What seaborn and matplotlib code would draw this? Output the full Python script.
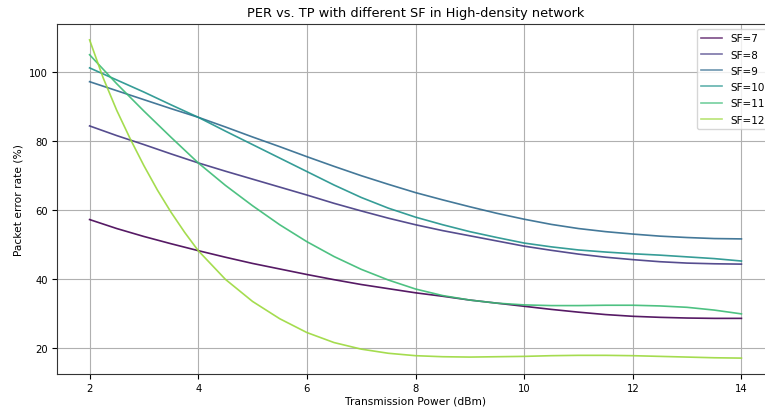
import numpy as np
import pandas as pd
import matplotlib
matplotlib.use("Agg")
import matplotlib.pyplot as plt
import seaborn as sns

# Transmission power sweep (dBm)
tp = [2.0, 2.5, 3.0, 3.5, 4.0, 4.5, 5.0, 5.5, 6.0, 6.5, 7.0, 7.5, 8.0,
      8.5, 9.0, 9.5, 10.0, 10.5, 11.0, 11.5, 12.0, 12.5, 13.0, 13.5, 14.0]
# SF=12 drops steeply at low power, so it is sampled more densely there
tp_sf12 = [2.0, 2.25, 2.5, 2.75, 3.0, 3.25, 3.5, 3.75, 4.0, 4.5, 5.0, 5.5, 6.0, 6.5, 7.0,
           7.5, 8.0, 8.5, 9.0, 9.5, 10.0, 10.5, 11.0, 11.5, 12.0, 12.5, 13.0, 13.5, 14.0]

# Packet error rate (%) per spreading factor
per_sf7 = [57.3, 54.7, 52.4, 50.3, 48.3, 46.4, 44.6, 43.0, 41.4, 39.9, 38.5, 37.3, 36.1,
           35.1, 34.0, 33.1, 32.2, 31.3, 30.5, 29.8, 29.3, 29.0, 28.8, 28.7, 28.7]
per_sf8 = [84.4, 81.6, 79.0, 76.3, 73.7, 71.3, 69.0, 66.7, 64.4, 62.0, 59.8, 57.7, 55.8,
           54.1, 52.6, 51.1, 49.6, 48.4, 47.3, 46.4, 45.7, 45.1, 44.7, 44.5, 44.4]
per_sf9 = [97.2, 94.6, 92.0, 89.4, 86.9, 84.1, 81.2, 78.4, 75.5, 72.7, 70.0, 67.5, 65.1,
           63.0, 61.0, 59.1, 57.4, 55.9, 54.7, 53.8, 53.1, 52.5, 52.1, 51.8, 51.7]
per_sf10 = [101.2, 97.7, 94.2, 90.5, 86.9, 82.9, 79.0, 75.1, 71.2, 67.3, 63.7, 60.6, 58.0,
            55.8, 53.8, 52.1, 50.5, 49.4, 48.5, 47.9, 47.4, 47.0, 46.5, 46.0, 45.3]
per_sf11 = [105.0, 96.6, 88.7, 81.1, 73.7, 67.2, 61.3, 55.8, 50.9, 46.6, 42.9, 39.8, 37.2,
            35.3, 34.0, 33.1, 32.6, 32.4, 32.4, 32.5, 32.5, 32.3, 31.9, 31.1, 30.0]
per_sf12 = [109.3, 98.3, 88.9, 80.6, 72.9, 65.8, 59.4, 53.6, 48.3, 40.0, 33.6, 28.6, 24.6,
            21.7, 19.8, 18.6, 17.9, 17.6, 17.5, 17.6, 17.7, 17.9, 18.0, 18.0, 17.9, 17.7,
            17.5, 17.3, 17.2]

sf_labels = ["SF=7", "SF=8", "SF=9", "SF=10", "SF=11", "SF=12"]
series = [(tp, per_sf7), (tp, per_sf8), (tp, per_sf9),
          (tp, per_sf10), (tp, per_sf11), (tp_sf12, per_sf12)]

df = pd.concat(
    [pd.DataFrame({"tp": x, "per": y, "sf": lab}) for lab, (x, y) in zip(sf_labels, series)],
    ignore_index=True,
)

colors = [matplotlib.colormaps["viridis"](v) for v in np.linspace(0, 0.85, 6)]
palette = dict(zip(sf_labels, colors))

fig = plt.figure(figsize=(7.65, 4.1), dpi=100)
ax = fig.add_axes([57 / 765, 35 / 410, (774 - 57) / 765, 350 / 410])

sns.lineplot(data=df, x="tp", y="per", hue="sf", hue_order=sf_labels,
             palette=palette, linewidth=1.2, alpha=0.9, ax=ax)

ax.set_xlim(1.4, 14.6)
ax.set_ylim(12.6, 113.9)
ax.set_xticks([2, 4, 6, 8, 10, 12, 14])
ax.set_yticks([20, 40, 60, 80, 100])
ax.tick_params(labelsize=7.2, length=3.5, width=0.8, pad=3)
ax.grid(True, color="#b0b0b0", linewidth=0.8)
ax.set_axisbelow(True)
for sp in ax.spines.values():
    sp.set_linewidth(0.8)
    sp.set_color("#333333")
# the right edge of the axes lies past the canvas
ax.spines["right"].set_visible(False)

ax.set_xlabel("Transmission Power (dBm)", fontsize=7.7, labelpad=2)
ax.set_ylabel("Packet error rate (%)", fontsize=7.7)
ax.set_title("PER vs. TP with different SF in High-density network", fontsize=9.3)

sns.move_legend(ax, "upper right", title=None, fontsize=7.5, frameon=True,
                bbox_to_anchor=(1.0, 1.0), labelspacing=0.6)
leg = ax.get_legend()
for h in leg.legend_handles:
    h.set_alpha(0.7)

fig.savefig("out.png", dpi=100)
